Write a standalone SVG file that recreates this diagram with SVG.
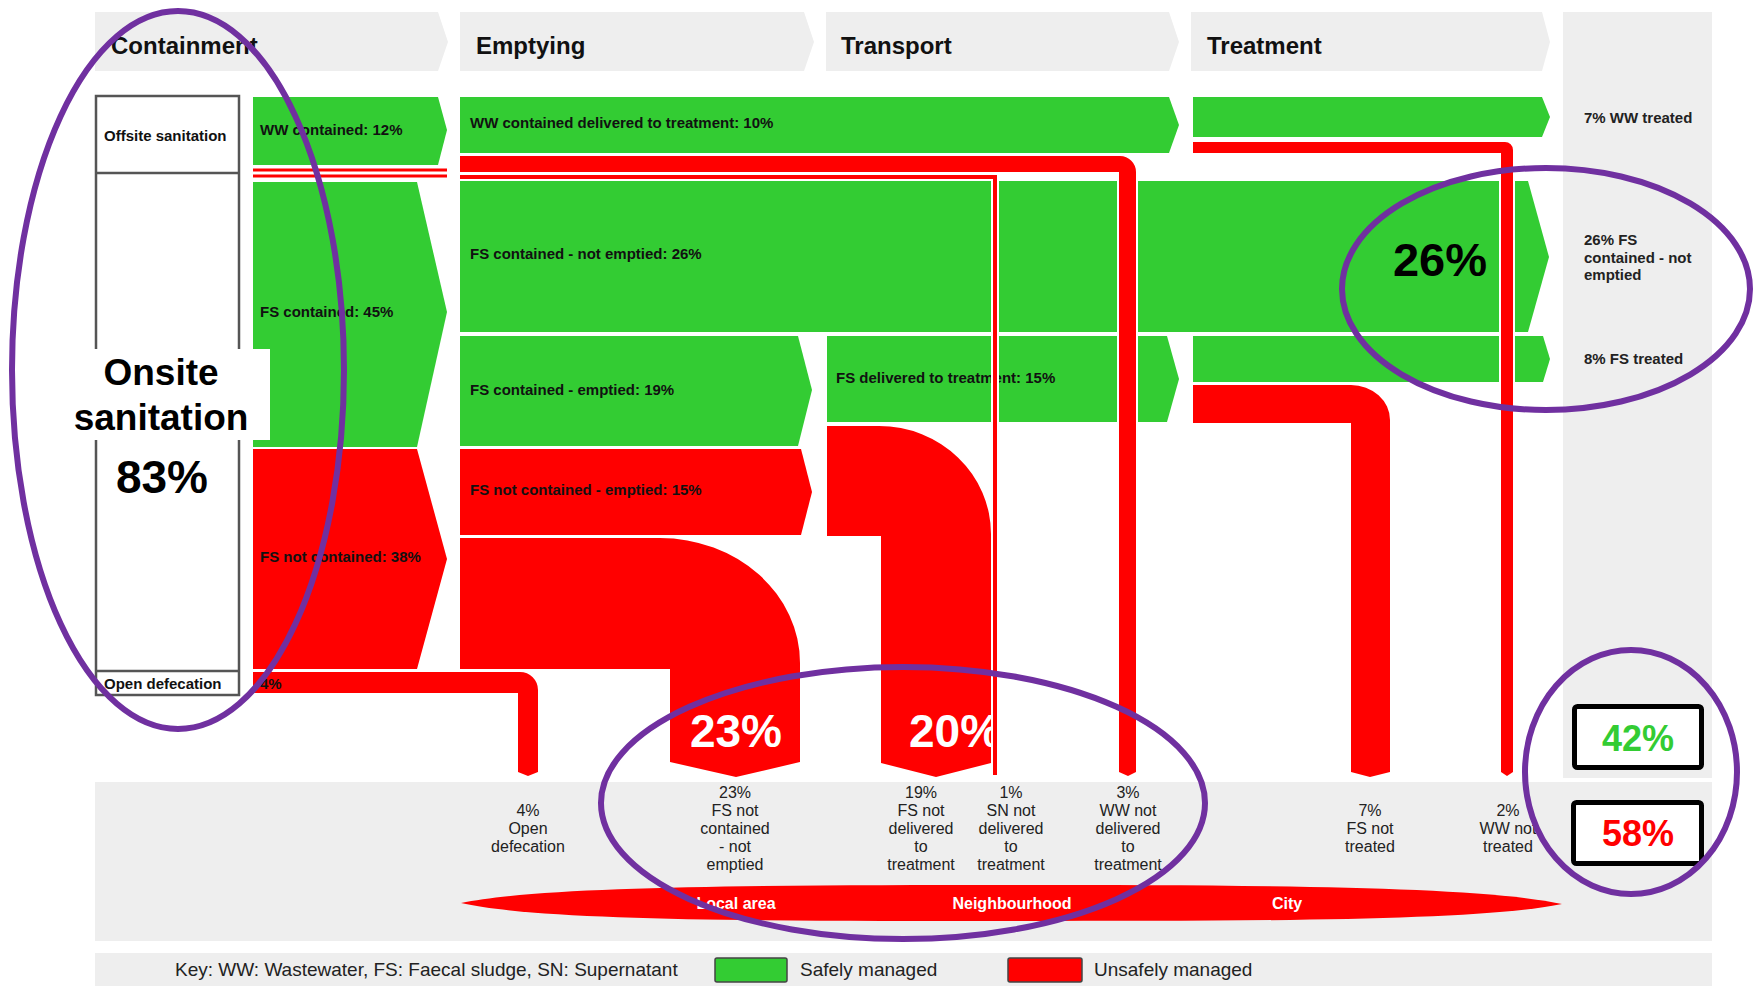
<svg xmlns="http://www.w3.org/2000/svg" width="1758" height="986" viewBox="0 0 1758 986">
<style>
text { font-family: "Liberation Sans", Arial, sans-serif; }
.hdr { fill:#eeeeee; }
.g { fill:#33cc33; }
.r { fill:#ff0000; }
.ln { fill:#ff0000; stroke:#ffffff; stroke-width:4; paint-order:stroke; }
.ht { font-size:24px; font-weight:bold; fill:#111; }
.fl { font-size:15px; font-weight:bold; fill:#111; }
.rt { font-size:15px; font-weight:bold; fill:#222; }
.bl { font-size:16px; fill:#222; text-anchor:middle; }
.zl { font-size:16px; font-weight:bold; fill:#fff; text-anchor:middle; }
.big { font-weight:bold; text-anchor:middle; }
.tbl { fill:none; stroke:#555; stroke-width:2.5; }
.ann { fill:none; stroke:#7030a0; stroke-width:6; }
.key { font-size:19px; fill:#222; }
</style>

<!-- background panels -->
<g id="panels">
  <rect class="hdr" x="1563" y="12" width="149" height="766"/>
  <rect class="hdr" x="95" y="782" width="1617" height="159"/>
  <rect class="hdr" x="95" y="953" width="1617" height="33"/>
</g>

<!-- stage headers -->
<g id="hdr-containment">
  <polygon class="hdr" points="95,12 438,12 448,42 438,71 95,71"/>
  <text class="ht" x="111" y="54">Containment</text>
</g>
<g id="hdr-emptying">
  <polygon class="hdr" points="460,12 804,12 814,42 804,71 460,71"/>
  <text class="ht" x="476" y="54">Emptying</text>
</g>
<g id="hdr-transport">
  <polygon class="hdr" points="826,12 1169,12 1179,42 1169,71 826,71"/>
  <text class="ht" x="841" y="54">Transport</text>
</g>
<g id="hdr-treatment">
  <polygon class="hdr" points="1191,12 1542,12 1550,42 1542,71 1191,71"/>
  <text class="ht" x="1207" y="54">Treatment</text>
</g>

<!-- left table -->
<g id="sanitation-table">
  <rect class="tbl" x="96" y="96" width="143" height="599"/>
  <line class="tbl" x1="96" y1="173" x2="239" y2="173"/>
  <line class="tbl" x1="96" y1="671" x2="239" y2="671"/>
  <text class="fl" x="104" y="141">Offsite sanitation</text>
  <text class="fl" x="104" y="689">Open defecation</text>
</g>

<!-- flow bands -->
<g id="ww-contained">
  <polygon class="g" points="253,97 438,97 447,130 438,165 253,165"/>
  <text class="fl" x="260" y="135">WW contained: 12%</text>
</g>
<g id="ww-stripes">
  <rect class="r" x="253" y="168.5" width="194" height="3"/>
  <rect class="r" x="253" y="174.5" width="194" height="3"/>
</g>
<g id="fs-contained">
  <polygon class="g" points="253,182 417,182 447,312 417,447 253,447"/>
  <text class="fl" x="260" y="317">FS contained: 45%</text>
</g>
<g id="fs-not-contained">
  <polygon class="r" points="253,449 417,449 447,559 417,669 253,669"/>
  <text class="fl" x="260" y="562">FS not contained: 38%</text>
</g>
<g id="open-defecation">
  <path class="r" d="M253,672 H520 A18,18 0 0 1 538,690 V772 L528,776 L518,772 V693 H253 Z"/>
  <text class="fl" x="260" y="689">4%</text>
</g>

<g id="ww-delivered">
  <polygon class="g" points="460,97 1169,97 1179,125 1169,153 460,153"/>
  <text class="fl" x="470" y="128">WW contained delivered to treatment: 10%</text>
</g>
<g id="fs-not-emptied">
  <polygon class="g" points="460,181 1528,181 1549,257 1528,332 460,332"/>
  <text class="fl" x="470" y="259">FS contained - not emptied: 26%</text>
  <text class="big" x="1440" y="276" font-size="47" fill="#000">26%</text>
</g>
<g id="fs-emptied">
  <polygon class="g" points="460,336 798,336 812,390 798,446 460,446"/>
  <text class="fl" x="470" y="395">FS contained - emptied: 19%</text>
</g>
<g id="fs-not-contained-emptied">
  <polygon class="r" points="460,449 801,449 812,492 801,535 460,535"/>
  <text class="fl" x="470" y="495">FS not contained - emptied: 15%</text>
</g>
<g id="fs-not-contained-not-emptied">
  <path class="r" d="M460,538 H660 A140,125 0 0 1 800,663 V762 L736,777 L670,762 V669 H460 Z"/>
  <text class="big" x="736" y="747" font-size="46" fill="#fff">23%</text>
</g>
<g id="fs-delivered">
  <polygon class="g" points="827,336 1167,336 1179,379 1167,422 827,422"/>
  <text class="fl" x="836" y="383">FS delivered to treatment: 15%</text>
</g>
<g id="fs-not-delivered">
  <path class="r" d="M827,426 H879 A112,108 0 0 1 991,534 V763 L936,777 L881,763 V536 H827 Z"/>
  <text class="big" x="909" y="747" font-size="46" fill="#fff" text-anchor="start" style="text-anchor:start">20%</text>
</g>
<g id="ww-treated">
  <polygon class="g" points="1193,97 1542,97 1550,117 1542,137 1193,137"/>
</g>
<g id="fs-treated">
  <polygon class="g" points="1193,336 1543,336 1550,359 1543,382 1193,382"/>
</g>
<g id="fs-not-treated">
  <path class="r" d="M1193,385 H1351 A39,35 0 0 1 1390,420 V772 L1370,777 L1351,772 V423 H1193 Z"/>
</g>

<!-- loss connectors -->
<g id="connectors">
  <path class="ln" d="M460,156 H1120 A16,16 0 0 1 1136,172 V772 L1128,776 L1119,772 V172 H460 Z"/>
  <path d="M460,177 H995 V774" fill="none" stroke="#fff" stroke-width="8"/>
  <path d="M460,177 H995 V775" fill="none" stroke="#ff0000" stroke-width="4"/>
  <path class="ln" d="M1193,142 H1505 A8,8 0 0 1 1513,150 V772 L1507,776 L1501,772 V153 H1193 Z"/>
</g>

<!-- right column outcomes -->
<g id="outcomes">
  <text class="rt" x="1584" y="123">7% WW treated</text>
  <text class="rt" x="1584" y="245">26% FS</text>
  <text class="rt" x="1584" y="263">contained - not</text>
  <text class="rt" x="1584" y="280">emptied</text>
  <text class="rt" x="1584" y="364">8% FS treated</text>
</g>
<g id="total-safe">
  <rect x="1574.5" y="706.5" width="127" height="61" rx="3" fill="#fff" stroke="#000" stroke-width="5"/>
  <text class="big" x="1638" y="751" font-size="36" fill="#33cc33">42%</text>
</g>
<g id="total-unsafe">
  <rect x="1573.5" y="802.5" width="128" height="61" rx="3" fill="#fff" stroke="#000" stroke-width="5"/>
  <text class="big" x="1638" y="846" font-size="36" fill="#ff0000">58%</text>
</g>

<!-- bottom labels -->
<g id="loss-labels">
  <text class="bl" x="528" y="816">4%</text>
  <text class="bl" x="528" y="834">Open</text>
  <text class="bl" x="528" y="852">defecation</text>

  <text class="bl" x="735" y="798">23%</text>
  <text class="bl" x="735" y="816">FS not</text>
  <text class="bl" x="735" y="834">contained</text>
  <text class="bl" x="735" y="852">- not</text>
  <text class="bl" x="735" y="870">emptied</text>

  <text class="bl" x="921" y="798">19%</text>
  <text class="bl" x="921" y="816">FS not</text>
  <text class="bl" x="921" y="834">delivered</text>
  <text class="bl" x="921" y="852">to</text>
  <text class="bl" x="921" y="870">treatment</text>

  <text class="bl" x="1011" y="798">1%</text>
  <text class="bl" x="1011" y="816">SN not</text>
  <text class="bl" x="1011" y="834">delivered</text>
  <text class="bl" x="1011" y="852">to</text>
  <text class="bl" x="1011" y="870">treatment</text>

  <text class="bl" x="1128" y="798">3%</text>
  <text class="bl" x="1128" y="816">WW not</text>
  <text class="bl" x="1128" y="834">delivered</text>
  <text class="bl" x="1128" y="852">to</text>
  <text class="bl" x="1128" y="870">treatment</text>

  <text class="bl" x="1370" y="816">7%</text>
  <text class="bl" x="1370" y="834">FS not</text>
  <text class="bl" x="1370" y="852">treated</text>

  <text class="bl" x="1508" y="816">2%</text>
  <text class="bl" x="1508" y="834">WW not</text>
  <text class="bl" x="1508" y="852">treated</text>
</g>

<g id="zones">
  <path class="r" d="M461,903 C540,886 760,885 1011,885 C1260,885 1480,886 1562,904 C1480,921 1260,921 1011,921 C760,921 540,921 461,903 Z"/>
  <text class="zl" x="736" y="909">Local area</text>
  <text class="zl" x="1012" y="909">Neighbourhood</text>
  <text class="zl" x="1287" y="909">City</text>
</g>

<!-- key -->
<g id="key">
  <text class="key" x="175" y="976">Key: WW: Wastewater, FS: Faecal sludge, SN: Supernatant</text>
  <rect x="715" y="958" width="72" height="24" rx="2" fill="#33cc33" stroke="#444" stroke-width="1.5"/>
  <text class="key" x="800" y="976">Safely managed</text>
  <rect x="1008" y="958" width="74" height="24" rx="2" fill="#ff0000" stroke="#444" stroke-width="1.5"/>
  <text class="key" x="1094" y="976">Unsafely managed</text>
</g>

<!-- onsite callout -->
<g id="onsite-callout">
  <rect x="60" y="349" width="210" height="91" fill="#fff"/>
  <text class="big" x="161" y="385" font-size="37" fill="#000">Onsite</text>
  <text class="big" x="161" y="430" font-size="37" fill="#000">sanitation</text>
  <text class="big" x="162" y="493" font-size="46" fill="#000">83%</text>
</g>

<!-- annotation ellipses -->
<g id="annotations">
  <ellipse class="ann" cx="178" cy="370" rx="166" ry="359"/>
  <ellipse class="ann" cx="1546" cy="289" rx="204" ry="121"/>
  <ellipse class="ann" cx="903" cy="803" rx="302" ry="136"/>
  <ellipse class="ann" cx="1631" cy="772" rx="106" ry="122"/>
</g>
</svg>
